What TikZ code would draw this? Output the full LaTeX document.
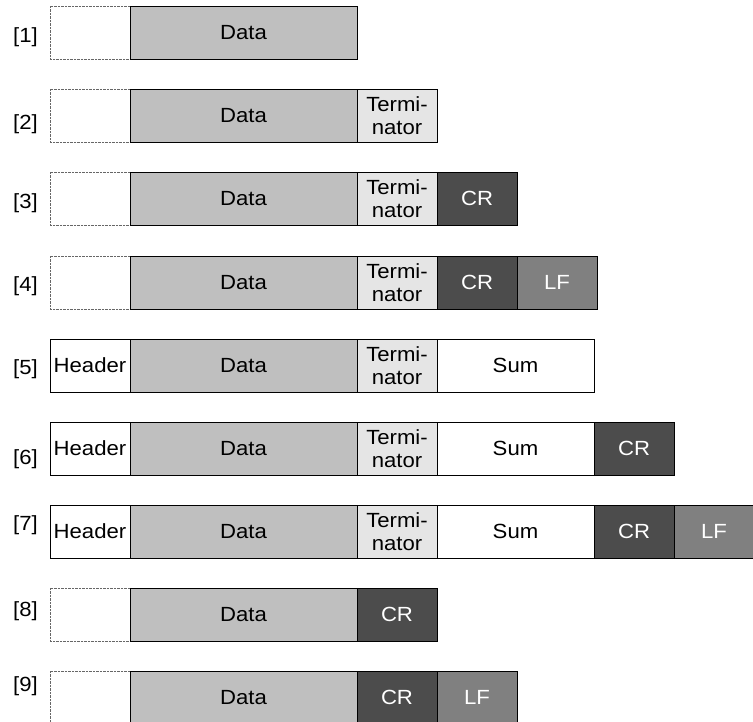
\documentclass[tikz,border=0pt]{standalone}
\usepackage{fontspec}
\setmainfont{Liberation Sans}[FakeStretch=1.08]
\usepackage{tikz}
\usetikzlibrary{positioning}
\newcommand\fldfont{\fontsize{20.5}{22.5}\selectfont}

\begin{document}
\begin{tikzpicture}[x=1pt, y=-1pt, font=\fldfont,
  field/.style={draw=black, line width=0.8pt, minimum height=53pt, inner sep=0pt, outer sep=0pt, align=center},
  blank/.style={field, draw=black!60, dash pattern=on 0.8pt off 0.6pt, minimum width=80pt},
  headfld/.style={field, fill=white, minimum width=80pt},
  datafld/.style={field, fill=black!25, minimum width=227pt},
  termfld/.style={field, fill=black!10, minimum width=80pt},
  sumfld/.style={field, fill=white, minimum width=157pt},
  crfld/.style={field, fill=black!70, text=white, minimum width=80pt},
  lffld/.style={field, fill=black!50, text=white, minimum width=80pt},
  rowlbl/.style={anchor=east, inner sep=0pt}]
\useasboundingbox (0,0) rectangle (753,722);
% ---- [1] data only
\node[rowlbl] (l1) at (38,37) {[1]};
\node[blank, anchor=west] (b1) at (50,32.5) {};
\node[datafld, right=0pt of b1] (d1) {Data};
% ---- [2] data + terminator
\node[rowlbl] (l2) at (38,124) {[2]};
\node[blank, anchor=west] (b2) at (50,115.5) {};
\node[datafld, right=0pt of b2] (d2) {Data};
\node[termfld, right=0pt of d2] (t2) {Termi-\\nator};
% ---- [3] data + terminator + CR
\node[rowlbl] (l3) at (38,203) {[3]};
\node[blank, anchor=west] (b3) at (50,198.5) {};
\node[datafld, right=0pt of b3] (d3) {Data};
\node[termfld, right=0pt of d3] (t3) {Termi-\\nator};
\node[crfld, right=0pt of t3] (c3) {CR};
% ---- [4] data + terminator + CR + LF
\node[rowlbl] (l4) at (38,286) {[4]};
\node[blank, anchor=west] (b4) at (50,282.5) {};
\node[datafld, right=0pt of b4] (d4) {Data};
\node[termfld, right=0pt of d4] (t4) {Termi-\\nator};
\node[crfld, right=0pt of t4] (c4) {CR};
\node[lffld, right=0pt of c4] (f4) {LF};
% ---- [5] header + data + terminator + sum
\node[rowlbl] (l5) at (38,369) {[5]};
\node[headfld, anchor=west] (h5) at (50,365.5) {Header};
\node[datafld, right=0pt of h5] (d5) {Data};
\node[termfld, right=0pt of d5] (t5) {Termi-\\nator};
\node[sumfld, right=0pt of t5] (s5) {Sum};
% ---- [6] ... + CR
\node[rowlbl] (l6) at (38,459) {[6]};
\node[headfld, anchor=west] (h6) at (50,448.5) {Header};
\node[datafld, right=0pt of h6] (d6) {Data};
\node[termfld, right=0pt of d6] (t6) {Termi-\\nator};
\node[sumfld, right=0pt of t6] (s6) {Sum};
\node[crfld, right=0pt of s6] (c6) {CR};
% ---- [7] ... + CR + LF
\node[rowlbl] (l7) at (38,525) {[7]};
\node[headfld, anchor=west] (h7) at (50,531.5) {Header};
\node[datafld, right=0pt of h7] (d7) {Data};
\node[termfld, right=0pt of d7] (t7) {Termi-\\nator};
\node[sumfld, right=0pt of t7] (s7) {Sum};
\node[crfld, right=0pt of s7] (c7) {CR};
\node[lffld, right=0pt of c7] (f7) {LF};
% ---- [8] data + CR
\node[rowlbl] (l8) at (38,611) {[8]};
\node[blank, anchor=west] (b8) at (50,614.5) {};
\node[datafld, right=0pt of b8] (d8) {Data};
\node[crfld, right=0pt of d8] (c8) {CR};
% ---- [9] data + CR + LF
\node[rowlbl] (l9) at (38,686) {[9]};
\node[blank, anchor=west] (b9) at (50,697.5) {};
\node[datafld, right=0pt of b9] (d9) {Data};
\node[crfld, right=0pt of d9] (c9) {CR};
\node[lffld, right=0pt of c9] (f9) {LF};
\end{tikzpicture}
\end{document}
